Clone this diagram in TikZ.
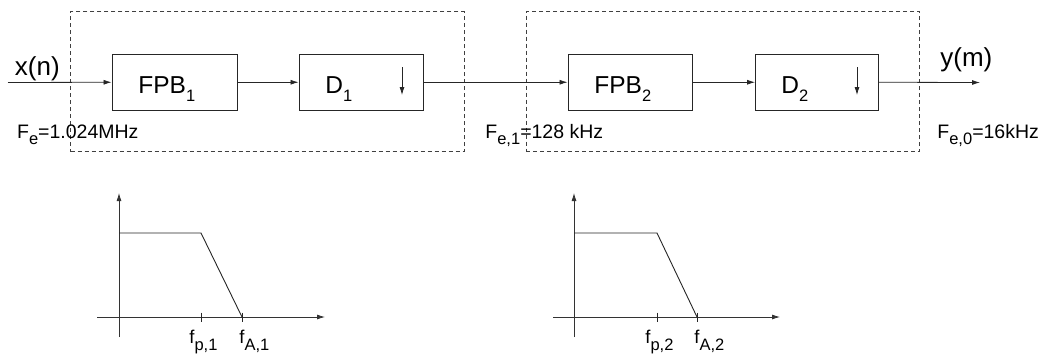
\documentclass[tikz,border=0pt]{standalone}
\usepackage{fontspec}
\setmainfont{Liberation Sans}
\usepackage{graphicx}
\usetikzlibrary{arrows.meta}
\newcommand{\sbs}[2][7pt]{\raisebox{-#1}{\fontsize{16.5}{18}\selectfont #2}}
\begin{document}
\begin{tikzpicture}[x=1pt,y=-1pt,
  line width=0.8pt,
  tip/.style={-{Latex[length=8pt,width=5pt]}},
  blk/.style={draw=black!85, line width=0.9pt, inner sep=0pt, minimum height=56.5pt},
  dbox/.style={draw=black!75, dashed, dash pattern=on 4pt off 3pt, line width=0.8pt, inner sep=0pt, minimum height=140pt},
  sig/.style={tip, draw=black!85, line width=0.8pt},
  boxtxt/.style={anchor=base west, inner sep=0pt, font=\fontsize{24.5}{28}\selectfont},
  iotxt/.style={anchor=base west, inner sep=0pt, font=\fontsize{26}{29}\selectfont},
  ftxt/.style={anchor=base west, inner sep=0pt, font=\fontsize{19.5}{23}\selectfont},
  ticktxt/.style={anchor=base west, inner sep=0pt, font=\fontsize{18.5}{21}\selectfont},
  axis/.style={tip, draw=black!80, line width=0.8pt},
  curve/.style={draw=black!85, line width=0.9pt}
]
\useasboundingbox (0,0) rectangle (1044,354);

% dashed stage boxes
\node[dbox, minimum width=393.3pt] (st1) at (267.35,81.7) {};
\node[dbox, minimum width=393.5pt] (st2) at (722.75,81.7) {};

% blocks
\node[blk, minimum width=125pt] (fpb1) at (174.5,82.25) {};
\node[blk, minimum width=124pt] (d1) at (361,82.25) {};
\node[blk, minimum width=124.5pt] (fpb2) at (630.25,82.25) {};
\node[blk, minimum width=122.5pt] (d2) at (816.75,82.25) {};

% block texts
\node[boxtxt] (tfpb1) at (138,93.3) {FPB\sbs[8pt]{1}};
\node[boxtxt] (td1) at (325,93.3) {D\sbs[8pt]{1}};
\node[boxtxt] (tfpb2) at (594,93.3) {FPB\sbs[8pt]{2}};
\node[boxtxt] (td2) at (781,93.3) {D\sbs[8pt]{2}};

% downsampling arrows
\draw[tip, draw=black!85] (402,67) -- (402,95);
\draw[tip, draw=black!85] (857,67) -- (857,95);

% signal path
\coordinate (in) at (8,82.5);
\coordinate (out) at (980,82.5);
\draw[sig] (in) -- (fpb1.west);
\draw[sig] (fpb1.east) -- (d1.west);
\draw[sig] (d1.east) -- (fpb2.west);
\draw[sig] (fpb2.east) -- (d2.west);
\draw[sig] (d2.east) -- (out);

% input / output labels
\node[iotxt] (xn) at (14.5,75) {x(n)};
\node[iotxt] (ym) at (940,66) {y(m)};

% sampling frequency labels
\node[ftxt] (fe) at (16.7,138.3) {F\sbs[6.5pt]{e}=1.024MHz};
\node[ftxt] (fe1) at (485,138.3) {F\sbs[6.5pt]{e,1}=128 kHz};
\node[ftxt] (fe0) at (937,138.3) {F\sbs[6.5pt]{e,0}=16kHz};

% filter response 1
\draw[axis] (119,337) -- (119,193);
\draw[axis] (97,317) -- (325,317);
\draw[curve] (119,233) -- (201,233) -- (242,317);
\draw[curve] (201,312.5) -- (201,322);
\draw[curve] (242,312.5) -- (242,322);
\node[ticktxt] (fp1) at (189,343) {f\sbs{p,1}};
\node[ticktxt] (fa1) at (239,343) {f\sbs{A,1}};

% filter response 2
\draw[axis] (574,337) -- (574,193);
\draw[axis] (553,317) -- (780,317);
\draw[curve] (574,233) -- (657,233) -- (697,317);
\draw[curve] (657,312.5) -- (657,322);
\draw[curve] (697,312.5) -- (697,322);
\node[ticktxt] (fp2) at (645,343) {f\sbs{p,2}};
\node[ticktxt] (fa2) at (694,343) {f\sbs{A,2}};
\end{tikzpicture}
\end{document}
